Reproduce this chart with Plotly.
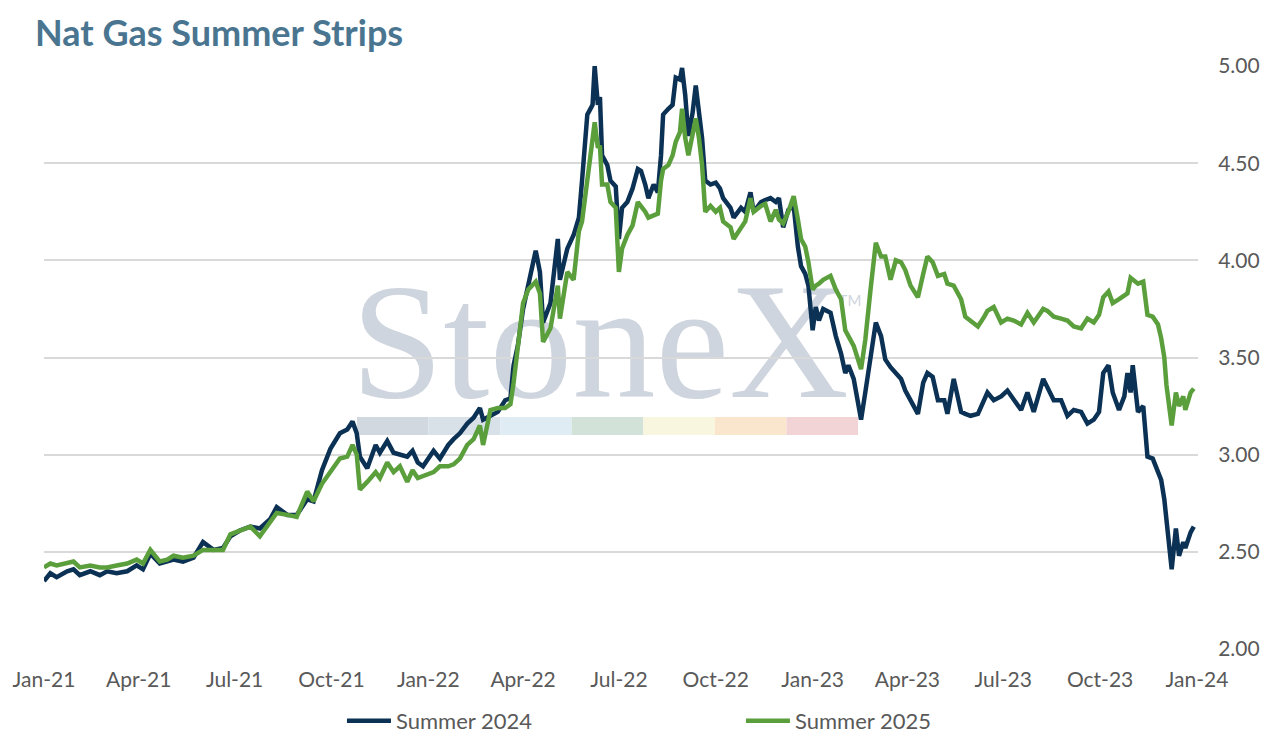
import plotly.graph_objects as go

dates = [
    "2021-01-01","2021-01-07","2021-01-13","2021-01-23","2021-01-29","2021-02-04","2021-02-14","2021-02-23",
    "2021-03-02","2021-03-11","2021-03-21","2021-03-30","2021-04-05","2021-04-12","2021-04-21","2021-04-28",
    "2021-05-04","2021-05-13","2021-05-23","2021-06-01","2021-06-11","2021-06-20","2021-06-27","2021-07-06",
    "2021-07-16","2021-07-25","2021-08-04","2021-08-10","2021-08-20","2021-08-29","2021-09-08","2021-09-14",
    "2021-09-22","2021-09-30","2021-10-09","2021-10-16","2021-10-21","2021-10-25","2021-10-28","2021-11-04",
    "2021-11-12","2021-11-16","2021-11-23","2021-11-29","2021-12-05","2021-12-12","2021-12-17","2021-12-22",
    "2021-12-27","2022-01-06","2022-01-12","2022-01-20","2022-01-25","2022-01-31","2022-02-07","2022-02-13",
    "2022-02-19","2022-02-22","2022-03-01","2022-03-08","2022-03-15","2022-03-20","2022-03-23","2022-03-27",
    "2022-04-01","2022-04-06","2022-04-13","2022-04-17","2022-04-20","2022-04-27","2022-05-04","2022-05-06",
    "2022-05-13","2022-05-19","2022-05-24","2022-05-27","2022-06-01","2022-06-06","2022-06-08","2022-06-11",
    "2022-06-13","2022-06-15","2022-06-20","2022-06-23","2022-06-28","2022-07-01","2022-07-04","2022-07-09",
    "2022-07-14","2022-07-19","2022-07-22","2022-07-26","2022-07-29","2022-08-03","2022-08-07","2022-08-10",
    "2022-08-12","2022-08-17","2022-08-21","2022-08-24","2022-08-28","2022-08-30","2022-09-02","2022-09-05",
    "2022-09-09","2022-09-12","2022-09-15","2022-09-18","2022-09-21","2022-09-26","2022-10-01","2022-10-05",
    "2022-10-08","2022-10-15","2022-10-18","2022-10-25","2022-10-29","2022-11-03","2022-11-06","2022-11-13",
    "2022-11-17","2022-11-22","2022-11-27","2022-11-30","2022-12-04","2022-12-09","2022-12-14","2022-12-18",
    "2022-12-21","2022-12-25","2022-12-28","2023-01-01","2023-01-04","2023-01-07","2023-01-11","2023-01-18",
    "2023-01-23","2023-01-28","2023-02-01","2023-02-04","2023-02-09","2023-02-16","2023-02-20","2023-02-25",
    "2023-03-02","2023-03-07","2023-03-11","2023-03-16","2023-03-21","2023-03-26","2023-03-30","2023-04-04",
    "2023-04-11","2023-04-16","2023-04-20","2023-04-25","2023-04-30","2023-05-06","2023-05-09","2023-05-15",
    "2023-05-22","2023-05-26","2023-05-31","2023-06-07","2023-06-13","2023-06-16","2023-06-22","2023-06-29",
    "2023-07-05","2023-07-11","2023-07-18","2023-07-24","2023-07-30","2023-08-08","2023-08-12","2023-08-18",
    "2023-08-25","2023-08-31","2023-09-06","2023-09-13","2023-09-19","2023-09-25","2023-09-30","2023-10-04",
    "2023-10-09","2023-10-13","2023-10-19","2023-10-24","2023-10-27","2023-10-30","2023-11-01","2023-11-06",
    "2023-11-11","2023-11-15","2023-11-20","2023-11-25","2023-11-28","2023-12-01","2023-12-03","2023-12-08",
    "2023-12-12","2023-12-15","2023-12-19","2023-12-21","2023-12-26","2023-12-29",
]

summer_2024 = [
    2.35,2.39,2.37,2.40,2.41,2.38,2.40,2.38,
    2.40,2.39,2.40,2.43,2.41,2.49,2.44,2.45,
    2.46,2.45,2.47,2.55,2.51,2.52,2.58,2.61,
    2.63,2.62,2.67,2.73,2.69,2.69,2.77,2.76,
    2.92,3.03,3.11,3.13,3.17,3.11,2.99,2.93,
    3.05,3.01,3.07,3.01,3.00,2.99,3.02,2.96,
    2.94,3.02,2.98,3.05,3.08,3.11,3.16,3.19,
    3.24,3.18,3.20,3.22,3.28,3.29,3.46,3.56,
    3.75,3.87,4.05,3.94,3.68,3.78,4.11,3.90,
    4.06,4.13,4.22,4.41,4.75,4.80,5.00,4.80,
    4.84,4.54,4.49,4.41,4.38,4.11,4.27,4.30,
    4.37,4.47,4.46,4.39,4.32,4.39,4.35,4.54,
    4.75,4.78,4.80,4.94,4.93,4.99,4.85,4.64,
    4.76,4.90,4.76,4.63,4.41,4.39,4.40,4.37,
    4.32,4.27,4.22,4.27,4.25,4.35,4.25,4.30,
    4.31,4.32,4.30,4.32,4.17,4.26,4.28,4.07,
    3.97,3.93,3.87,3.64,3.76,3.69,3.75,3.73,
    3.61,3.52,3.42,3.46,3.39,3.18,3.32,3.52,
    3.68,3.61,3.49,3.45,3.42,3.39,3.33,3.28,
    3.21,3.37,3.42,3.40,3.28,3.28,3.21,3.39,
    3.22,3.21,3.20,3.21,3.28,3.32,3.28,3.30,
    3.33,3.28,3.23,3.32,3.22,3.39,3.35,3.28,
    3.28,3.20,3.23,3.22,3.16,3.18,3.22,3.42,
    3.46,3.32,3.23,3.30,3.42,3.32,3.46,3.22,
    3.25,2.99,2.98,2.91,2.87,2.77,2.68,2.41,
    2.62,2.48,2.55,2.52,2.60,2.63,
]

summer_2025 = [
    2.42,2.44,2.43,2.44,2.45,2.42,2.43,2.42,
    2.42,2.43,2.44,2.46,2.44,2.51,2.45,2.46,
    2.48,2.47,2.48,2.51,2.51,2.51,2.59,2.61,
    2.63,2.58,2.65,2.70,2.69,2.68,2.81,2.76,
    2.85,2.91,2.98,2.99,3.05,3.00,2.82,2.86,
    2.91,2.88,2.96,2.91,2.94,2.86,2.92,2.88,
    2.89,2.91,2.94,2.94,2.95,2.98,3.05,3.08,
    3.15,3.05,3.23,3.24,3.24,3.26,3.37,3.56,
    3.78,3.85,3.89,3.83,3.58,3.65,3.87,3.70,
    3.94,3.90,4.15,4.20,4.42,4.63,4.71,4.58,
    4.59,4.39,4.39,4.30,4.27,3.94,4.06,4.13,
    4.18,4.30,4.28,4.25,4.22,4.23,4.24,4.41,
    4.47,4.49,4.54,4.61,4.66,4.78,4.63,4.54,
    4.66,4.73,4.63,4.49,4.25,4.28,4.25,4.27,
    4.20,4.17,4.11,4.17,4.20,4.32,4.25,4.28,
    4.29,4.20,4.26,4.21,4.19,4.25,4.33,4.21,
    4.11,4.07,3.99,3.85,3.87,3.88,3.90,3.92,
    3.85,3.80,3.64,3.61,3.56,3.44,3.59,3.85,
    4.09,4.02,4.02,3.90,4.00,3.99,3.95,3.87,
    3.81,3.93,4.02,3.99,3.92,3.93,3.88,3.87,
    3.80,3.71,3.69,3.66,3.71,3.74,3.76,3.68,
    3.70,3.69,3.67,3.73,3.68,3.75,3.74,3.71,
    3.70,3.69,3.66,3.65,3.70,3.68,3.72,3.81,
    3.84,3.78,3.80,3.82,3.83,3.91,3.90,3.88,
    3.89,3.72,3.71,3.67,3.60,3.50,3.36,3.15,
    3.32,3.25,3.30,3.23,3.32,3.34,
]

series_names = ["Summer 2024", "Summer 2025"]
series_colors = ["#0b3154", "#5b9f3d"]
y_ticks = [2.0, 2.5, 3.0, 3.5, 4.0, 4.5, 5.0]
band_colors = ["#d2d8e0", "#d8e0e8", "#e0ecf4", "#d3e2d8", "#f8f6de", "#fae6cc", "#f2d4d6"]

fig = go.Figure()
for name, vals, col in zip(series_names, [summer_2024, summer_2025], series_colors):
    fig.add_trace(go.Scatter(x=dates, y=vals, mode="lines", name=name,
                             line=dict(color=col, width=4.5)))

shapes = []
bx0, bx1 = 0.2712, 0.7054
bw = (bx1 - bx0) / len(band_colors)
for i, c in enumerate(band_colors):
    shapes.append(dict(type="rect", xref="paper", yref="paper",
                       x0=bx0 + i * bw, x1=bx0 + (i + 1) * bw, y0=0.367, y1=0.398,
                       fillcolor=c, line=dict(width=0), layer="below"))
shapes.append(dict(type="rect", xref="paper", yref="paper",
                   x0=0.26, x1=0.7036, y0=0.47, y1=0.65,
                   fillcolor="rgba(0,0,0,0)", line=dict(width=0), layer="below",
                   label=dict(text="StoneX", textposition="middle center",
                              font=dict(family="Liberation Serif", size=166, color="#cfd5de"))))
shapes.append(dict(type="rect", xref="paper", yref="paper",
                   x0=0.6834, x1=0.7134, y0=0.5736, y1=0.6236,
                   fillcolor="rgba(0,0,0,0)", line=dict(width=0), layer="below",
                   label=dict(text="TM", textposition="middle center",
                              font=dict(family="Lato", size=15, color="#cfd5de"))))

fig.update_layout(
    width=1272, height=743,
    paper_bgcolor="white", plot_bgcolor="white",
    margin=dict(l=36, r=82, t=58, b=102),
    title=dict(text="<b>Nat Gas Summer Strips</b>", xref="container", yref="container",
               x=0.0212, xanchor="left", y=0.9664, yanchor="middle",
               font=dict(family="Lato", size=36, color="#4a7590")),
    font=dict(family="Lato", size=21, color="#595959"),
    showlegend=True,
    legend=dict(orientation="h", x=0.2582, xanchor="left",
                yref="container", y=0.0404, yanchor="middle",
                entrywidth=340, entrywidthmode="pixels", itemwidth=44,
                font=dict(family="Lato", size=22, color="#595959"),
                bgcolor="rgba(0,0,0,0)"),
    shapes=shapes,
)
fig.update_xaxes(type="date", range=["2021-01-01", "2024-01-02"], dtick="M3",
                 tick0="2021-01-01", tickformat="%b-%y", showgrid=False,
                 showline=False, zeroline=False, ticks="outside", ticklen=12,
                 tickcolor="rgba(0,0,0,0)", automargin=False,
                 tickfont=dict(family="Lato", size=21, color="#595959"))
fig.update_yaxes(range=[2, 5], side="right", tickvals=y_ticks, tickformat=".2f",
                 showgrid=True, gridcolor="#d9d9d9", gridwidth=1.5, zeroline=False,
                 showline=False, ticks="outside", ticklen=15, tickcolor="rgba(0,0,0,0)",
                 automargin=False,
                 tickfont=dict(family="Lato", size=21, color="#595959"))

fig.write_html("out.html")
